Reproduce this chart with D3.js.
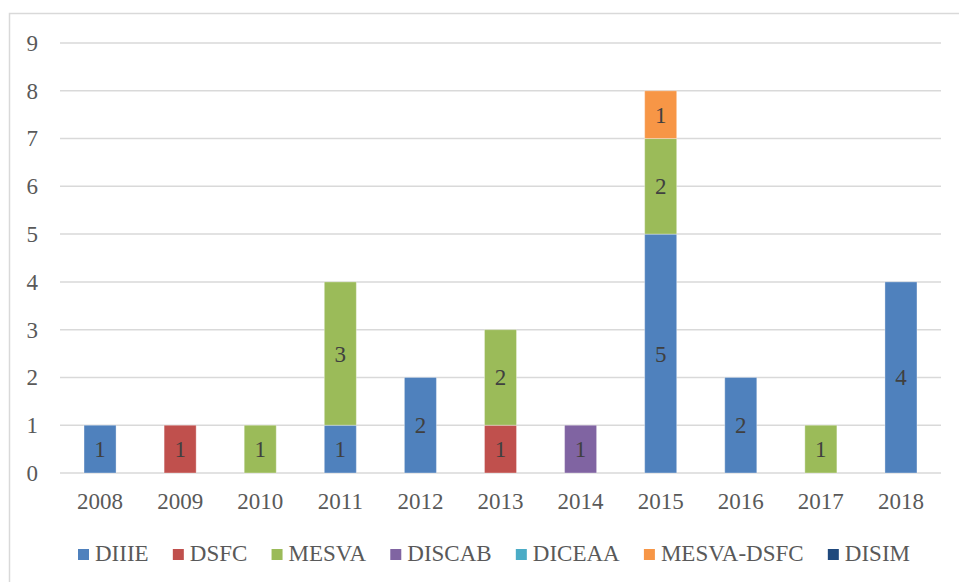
<!DOCTYPE html>
<html>
<head>
<meta charset="utf-8">
<script src="https://cdn.jsdelivr.net/npm/d3@7"></script>
<style>
  body { margin: 0; background: #fff; }
  svg text { font-family: 'Liberation Serif', 'Times New Roman', Tinos, 'DejaVu Serif', serif; }
</style>
</head>
<body>
<div id="chart"></div>
<script>
// ---- data ----
const years = ['2008', '2009', '2010', '2011', '2012', '2013', '2014', '2015', '2016', '2017', '2018'];
const seriesNames = ['DIIIE', 'DSFC', 'MESVA', 'DISCAB', 'DICEAA', 'MESVA-DSFC', 'DISIM'];
const seriesColours = ['#4f81bd', '#c0504d', '#9bbb59', '#8064a2', '#4bacc6', '#f79646', '#1f497d'];
const diiie     = [1, 0, 0, 1, 2, 0, 0, 5, 2, 0, 4];
const dsfc      = [0, 1, 0, 0, 0, 1, 0, 0, 0, 0, 0];
const mesva     = [0, 0, 1, 3, 0, 2, 0, 2, 0, 1, 0];
const discab    = [0, 0, 0, 0, 0, 0, 1, 0, 0, 0, 0];
const diceaa    = [0, 0, 0, 0, 0, 0, 0, 0, 0, 0, 0];
const mesvaDsfc = [0, 0, 0, 0, 0, 0, 0, 1, 0, 0, 0];
const disim     = [0, 0, 0, 0, 0, 0, 0, 0, 0, 0, 0];
const yTicks = [0, 1, 2, 3, 4, 5, 6, 7, 8, 9];

const seriesValues = [diiie, dsfc, mesva, discab, diceaa, mesvaDsfc, disim];

const W = 959, H = 582;
const margin = { left: 60, right: 18, top: 43, bottom: 109 };
const width = W - margin.left - margin.right;
const height = H - margin.top - margin.bottom;
const serif = "'Liberation Serif', 'Times New Roman', Tinos, 'DejaVu Serif', serif";

const rows = years.map((y, i) => {
    const r = { year: y };
    seriesNames.forEach((s, k) => r[s] = seriesValues[k][i]);
    return r;
});

const stacked = d3.stack().keys(seriesNames)(rows);

const svg = d3.select('#chart').append('svg')
    .attr('width', W)
    .attr('height', H)
    .attr('font-family', serif);

// chart area border
svg.append('path')
    .attr('d', `M9.5,${H} V13.5 H${W}`)
    .attr('fill', 'none')
    .attr('stroke', '#d9d9d9')
    .attr('stroke-width', 1.5);

const plot = svg.append('g')
    .attr('transform', `translate(${margin.left}, ${margin.top})`);

const x = d3.scaleBand().domain(years).range([0, width]).paddingInner(0.6).paddingOuter(0.3);
const y = d3.scaleLinear().domain([0, 9]).range([height, 0]);
const colour = d3.scaleOrdinal().domain(seriesNames).range(seriesColours);

// gridlines
plot.append('g')
    .selectAll('line')
    .data(yTicks)
    .enter()
    .append('line')
    .attr('x1', 0)
    .attr('x2', width)
    .attr('y1', d => y(d))
    .attr('y2', d => y(d))
    .attr('stroke', '#d9d9d9')
    .attr('stroke-width', 1.5);

// y axis
const yAxis = d3.axisLeft(y).tickValues(yTicks).tickSize(0).tickPadding(22);
plot.append('g')
    .attr('class', 'axis y')
    .call(yAxis)
    .attr('font-family', serif)
    .attr('font-size', '23px')
    .call(g => g.selectAll('text').attr('fill', '#595959'))
    .select('.domain').remove();

// x axis
const xAxis = d3.axisBottom(x).tickSize(0).tickPadding(20);
plot.append('g')
    .attr('class', 'axis x')
    .attr('transform', `translate(0, ${height})`)
    .call(xAxis)
    .attr('font-family', serif)
    .attr('font-size', '23px')
    .call(g => g.selectAll('text').attr('fill', '#595959'))
    .select('.domain').remove();

// bars
const layers = plot.append('g')
    .selectAll('.layer')
    .data(stacked)
    .enter()
    .append('g')
    .attr('class', 'layer')
    .attr('fill', d => colour(d.key));

layers.selectAll('rect')
    .data(d => d.filter(p => p[1] - p[0] > 0))
    .enter()
    .append('rect')
    .attr('x', d => x(d.data.year))
    .attr('width', x.bandwidth())
    .attr('y', d => y(d[1]))
    .attr('height', d => y(d[0]) - y(d[1]))
    .attr('stroke', '#ffffff')
    .attr('stroke-opacity', 0.35)
    .attr('stroke-width', 1);

// value labels
layers.selectAll('text')
    .data(d => d.filter(p => p[1] - p[0] > 0))
    .enter()
    .append('text')
    .attr('x', d => x(d.data.year) + x.bandwidth() / 2)
    .attr('y', d => (y(d[0]) + y(d[1])) / 2 + 8)
    .attr('text-anchor', 'middle')
    .attr('font-size', '23px')
    .attr('fill', '#404040')
    .text(d => d[1] - d[0]);

// legend: spread items over the same span as the original (x 78..910)
const legendLeft = 78, legendRight = 910;
const legend = svg.append('g').attr('class', 'legend')
    .attr('transform', 'translate(0, 561)');
const items = legend.selectAll('g')
    .data(seriesNames)
    .enter()
    .append('g');

items.append('rect')
    .attr('width', 11)
    .attr('height', 11)
    .attr('y', -12)
    .attr('fill', d => colour(d));

items.append('text')
    .attr('x', 17)
    .attr('font-size', '23px')
    .attr('fill', '#595959')
    .text(d => d);

const widths = [];
items.each(function () {
    widths.push(17 + d3.select(this).select('text').node().getComputedTextLength());
});
const gap = (legendRight - legendLeft - d3.sum(widths)) / (widths.length - 1);
let offset = legendLeft;
items.each(function (d, i) {
    d3.select(this).attr('transform', `translate(${offset}, 0)`);
    offset += widths[i] + gap;
});
</script>
</body>
</html>
